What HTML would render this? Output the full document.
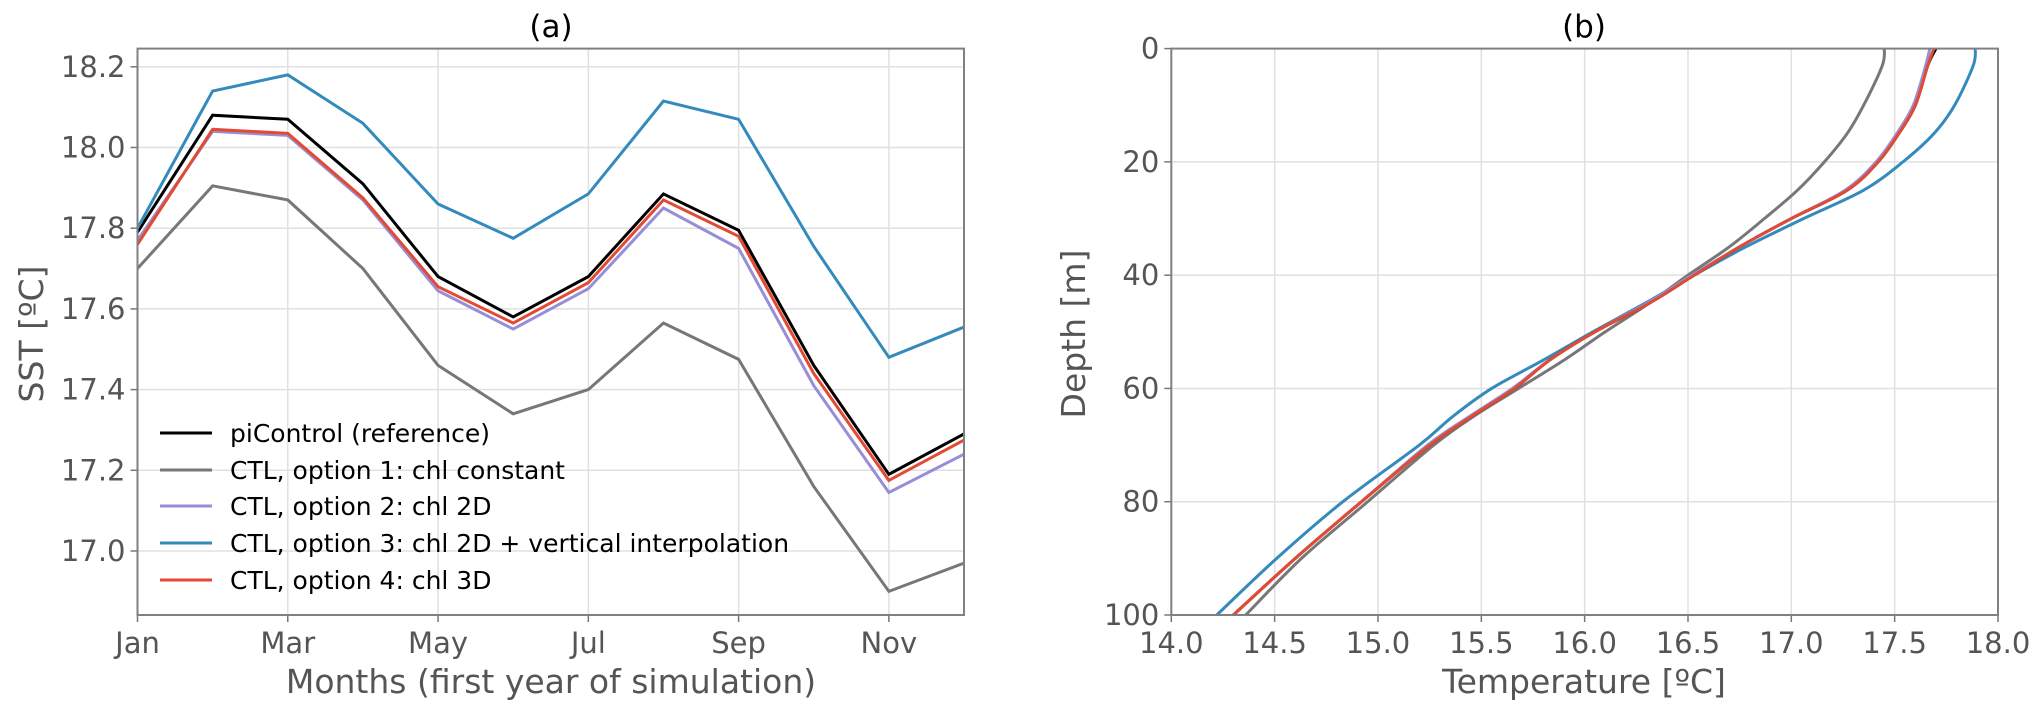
<!DOCTYPE html>
<html><head><meta charset="utf-8"><style>
html,body{margin:0;padding:0;background:#fff;}
svg{display:block;font-family:"DejaVu Sans","Liberation Sans",sans-serif;}
.tick{fill:#555;font-size:29px;}
.lab{fill:#555;font-size:33px;}
.ttl{fill:#000;font-size:31px;}
.leg{fill:#000;font-size:25px;}
</style></head><body>
<svg id="chart" width="2044" height="712" viewBox="0 0 2044 712" xmlns="http://www.w3.org/2000/svg">
<g id="pa"></g>
<g id="pb"></g>
</svg>
<script>
// ---- Panel (a) data ----
const months = ["Jan","Feb","Mar","Apr","May","Jun","Jul","Aug","Sep","Oct","Nov","Dec"];
const monthTickLabels = ["Jan","Mar","May","Jul","Sep","Nov"];
const sstTicks = [17.0,17.2,17.4,17.6,17.8,18.0,18.2];
const sstPiControl = [17.79,18.08,18.07,17.91,17.68,17.58,17.68,17.885,17.795,17.46,17.19,17.29];
const sstOpt1 = [17.70,17.905,17.87,17.70,17.46,17.34,17.40,17.565,17.475,17.16,16.90,16.97];
const sstOpt2 = [17.77,18.04,18.03,17.87,17.645,17.55,17.65,17.85,17.75,17.41,17.145,17.24];
const sstOpt3 = [17.80,18.14,18.18,18.06,17.86,17.775,17.885,18.115,18.07,17.755,17.48,17.555];
const sstOpt4 = [17.76,18.045,18.035,17.875,17.655,17.565,17.665,17.87,17.78,17.44,17.175,17.275];
// ---- Panel (b) data ----
const depths = [0,3,10,15,20,25,30,35,40,45,50,55,60,65,70,80,90,100];
const depthTicks = [0,20,40,60,80,100];
const tempTicks = [14.0,14.5,15.0,15.5,16.0,16.5,17.0,17.5,18.0];
const tPiControl = [17.70,17.66,17.60,17.52,17.42,17.27,17.00,16.75,16.53,16.31,16.05,15.83,15.66,15.45,15.25,14.92,14.60,14.30];
const tOpt1 = [17.45,17.44,17.35,17.27,17.16,17.03,16.87,16.70,16.50,16.31,16.10,15.90,15.68,15.46,15.27,14.95,14.63,14.36];
const tOpt2 = [17.67,17.65,17.59,17.51,17.41,17.26,17.00,16.75,16.52,16.30,16.05,15.83,15.65,15.44,15.24,14.92,14.60,14.30];
const tOpt3 = [17.89,17.88,17.79,17.69,17.54,17.35,17.06,16.78,16.53,16.29,16.04,15.80,15.55,15.36,15.20,14.83,14.51,14.22];
const tOpt4 = [17.69,17.66,17.60,17.52,17.42,17.27,17.00,16.75,16.53,16.31,16.05,15.83,15.66,15.45,15.25,14.92,14.60,14.30];

const seriesNames = ["piControl (reference)","CTL, option 1: chl constant","CTL, option 2: chl 2D","CTL, option 3: chl 2D + vertical interpolation","CTL, option 4: chl 3D"];
const colors = ["#000000","#777777","#988ED5","#348ABD","#E24A33"];

const NS="http://www.w3.org/2000/svg";
function mk(parent,tag,attrs,text){const e=document.createElementNS(NS,tag);for(const k in attrs)e.setAttribute(k,attrs[k]);if(text!==undefined)e.textContent=text;parent.appendChild(e);return e;}
function smooth(pts){
  let d='M'+pts[0][0]+','+pts[0][1];
  for(let i=0;i<pts.length-1;i++){
    const p0=pts[Math.max(0,i-1)],p1=pts[i],p2=pts[i+1],p3=pts[Math.min(pts.length-1,i+2)];
    const c1=[p1[0]+(p2[0]-p0[0])/6,p1[1]+(p2[1]-p0[1])/6];
    const c2=[p2[0]-(p3[0]-p1[0])/6,p2[1]-(p3[1]-p1[1])/6];
    d+=' C'+c1[0]+','+c1[1]+' '+c2[0]+','+c2[1]+' '+p2[0]+','+p2[1];
  }
  return d;
}

// Panel a geometry
const A={l:137.5,r:964,t:48.6,b:615};
const ax=i=>A.l+i*(A.r-A.l)/11;
const ay=v=>551-(v-17.0)*403.5;
const pa=document.getElementById('pa');
sstTicks.forEach(v=>{
  const g=mk(pa,'line',{x1:A.l,x2:A.r,y1:ay(v),y2:ay(v),stroke:'#e0e0e0','stroke-width':1.5});
  
  
  mk(pa,'line',{x1:A.l-7,x2:A.l,y1:ay(v),y2:ay(v),stroke:'#777','stroke-width':1.5});
  const t=mk(pa,'text',{x:A.l-12,y:ay(v)+10,'text-anchor':'end',class:'tick'},v.toFixed(1));
  
  
});
monthTickLabels.forEach(m=>{
  const i=months.indexOf(m);
  const g=mk(pa,'line',{x1:ax(i),x2:ax(i),y1:A.t,y2:A.b,stroke:'#e0e0e0','stroke-width':1.5});
  
  
  mk(pa,'line',{x1:ax(i),x2:ax(i),y1:A.b,y2:A.b+7,stroke:'#777','stroke-width':1.5});
  const t=mk(pa,'text',{x:ax(i),y:A.b+38,'text-anchor':'middle',class:'tick'},m);
  
  
});
[sstPiControl,sstOpt1,sstOpt2,sstOpt3,sstOpt4].forEach((s,k)=>{
  const p=mk(pa,'polyline',{points:s.map((v,i)=>ax(i)+','+ay(v)).join(' '),fill:'none',stroke:colors[k],'stroke-width':3,'stroke-linejoin':'miter'});
  
  
});
mk(pa,'rect',{x:A.l,y:A.t,width:A.r-A.l,height:A.b-A.t,fill:'none',stroke:'#808080','stroke-width':2});
const ta=mk(pa,'text',{x:551,y:37,'text-anchor':'middle',class:'ttl'},'(a)');


const xla=mk(pa,'text',{x:551,y:693,'text-anchor':'middle',class:'lab'},'Months (first year of simulation)');


const yla=mk(pa,'text',{x:0,y:0,'text-anchor':'middle',class:'lab',transform:'translate(43,334) rotate(-90)'},'SST [ºC]');


const legY=[433,470,506,543,580];
seriesNames.forEach((n,k)=>{
  const g=mk(pa,'g',{});
  
  
  mk(g,'line',{x1:160,x2:212,y1:legY[k],y2:legY[k],stroke:colors[k],'stroke-width':3});
  mk(g,'text',{x:230,y:legY[k]+9,class:'leg'},n);
});

// Panel b geometry
const B={l:1171.3,r:1998,t:48.6,b:615};
const bx=v=>B.l+(v-14)*(B.r-B.l)/4;
const by=d=>B.t+d*(B.b-B.t)/100;
const pb=document.getElementById('pb');
depthTicks.forEach(d=>{
  const g=mk(pb,'line',{x1:B.l,x2:B.r,y1:by(d),y2:by(d),stroke:'#e0e0e0','stroke-width':1.5});
  
  
  mk(pb,'line',{x1:B.l-7,x2:B.l,y1:by(d),y2:by(d),stroke:'#777','stroke-width':1.5});
  const t=mk(pb,'text',{x:B.l-12,y:by(d)+10,'text-anchor':'end',class:'tick'},String(d));
  
  
});
tempTicks.forEach(v=>{
  const g=mk(pb,'line',{x1:bx(v),x2:bx(v),y1:B.t,y2:B.b,stroke:'#e0e0e0','stroke-width':1.5});
  
  
  mk(pb,'line',{x1:bx(v),x2:bx(v),y1:B.b,y2:B.b+7,stroke:'#777','stroke-width':1.5});
  const t=mk(pb,'text',{x:bx(v),y:B.b+38,'text-anchor':'middle',class:'tick'},v.toFixed(1));
  
  
});
[tOpt1,tOpt3,tPiControl,tOpt2,tOpt4].forEach((s,k)=>{
  const c=[colors[1],colors[3],colors[0],colors[2],colors[4]][k];
  const p=mk(pb,'path',{d:smooth(s.map((v,i)=>[bx(v),by(depths[i])])),fill:'none',stroke:c,'stroke-width':3,'stroke-linejoin':'round'});
  
  
});
mk(pb,'rect',{x:B.l,y:B.t,width:B.r-B.l,height:B.b-B.t,fill:'none',stroke:'#808080','stroke-width':2});
const tb=mk(pb,'text',{x:1584,y:37,'text-anchor':'middle',class:'ttl'},'(b)');


const xlb=mk(pb,'text',{x:1584,y:693,'text-anchor':'middle',class:'lab'},'Temperature [ºC]');


const ylb=mk(pb,'text',{x:0,y:0,'text-anchor':'middle',class:'lab',transform:'translate(1085,334) rotate(-90)'},'Depth [m]');


</script>
</body></html>
